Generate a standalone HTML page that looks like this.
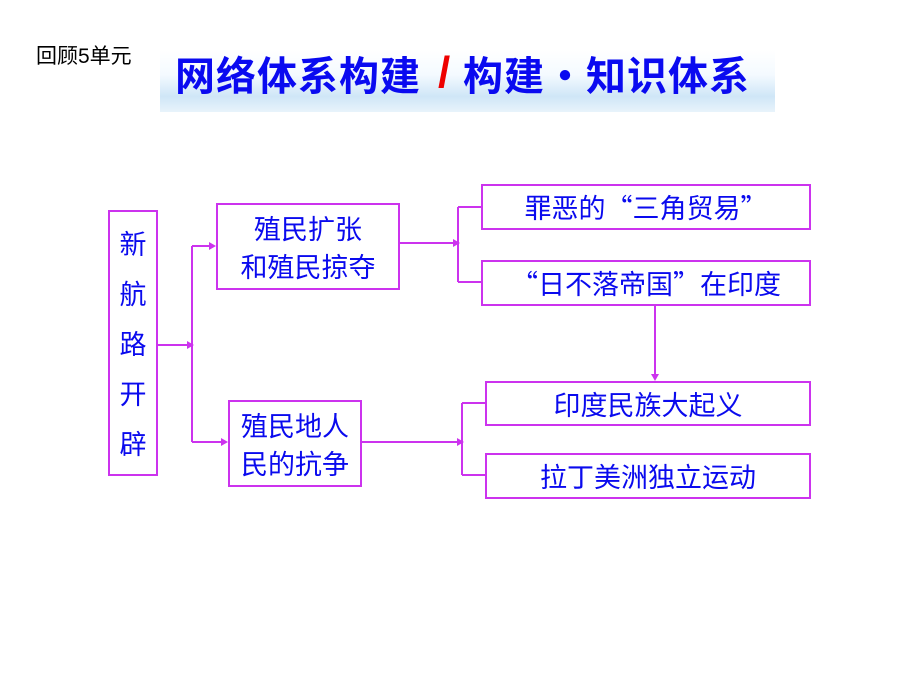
<!DOCTYPE html>
<html><head><meta charset="utf-8"><style>
body{margin:0;background:#fff;width:920px;height:690px;position:relative;overflow:hidden;font-family:"Liberation Sans","Noto Sans CJK SC",sans-serif}
.b{position:absolute;border:2px solid #cc33ee;box-sizing:border-box;color:#0a0aee;font-size:27px;font-family:"Noto Sans CJK SC",sans-serif;display:flex;align-items:center;justify-content:center;text-align:center;line-height:38px;white-space:nowrap}
.t{position:absolute;top:45px;font-size:40px;font-weight:bold;color:#0a0af0;white-space:nowrap;font-family:"Noto Sans CJK SC",sans-serif;letter-spacing:1px;line-height:56px}
</style></head><body>
<div style="position:absolute;left:36px;top:40px;font-size:21px;color:#000">回顾5单元</div>
<div style="position:absolute;left:160px;top:50px;width:615px;height:62px;background:linear-gradient(#fff 0%,#f4faff 40%,#cfe6f7 75%,#e8f3fb 100%)"></div>
<div class="t" style="left:175px">网络体系构建</div>
<div class="t" style="left:438px;color:#e00;font-family:'Liberation Sans',sans-serif;font-size:44px">/</div>
<div class="t" style="left:463px">构建</div>
<div class="t" style="left:545px">·</div>
<div class="t" style="left:586px">知识体系</div>
<div class="b" style="left:108px;top:210px;width:50px;height:266px;flex-direction:column;line-height:50px">新<br>航<br>路<br>开<br>辟</div>
<div class="b" style="left:216px;top:203px;width:184px;height:87px">殖民扩张<br>和殖民掠夺</div>
<div class="b" style="left:228px;top:400px;width:134px;height:87px">殖民地人<br>民的抗争</div>
<div class="b" style="left:481px;top:184px;width:330px;height:46px">罪恶的“三角贸易”</div>
<div class="b" style="left:481px;top:260px;width:330px;height:46px">“日不落帝国”在印度</div>
<div class="b" style="left:485px;top:381px;width:326px;height:45px">印度民族大起义</div>
<div class="b" style="left:485px;top:453px;width:326px;height:46px">拉丁美洲独立运动</div>
<svg width="920" height="690" style="position:absolute;left:0;top:0">
<g stroke="#cc33ee" stroke-width="2" fill="none">
<path d="M158 345H188M192 246V442M192 246H212M192 442H224"/>
<path d="M400 243H454M458 207V282M458 207H481M458 282H481"/>
<path d="M655 306V376"/>
<path d="M362 442H458M462 403V475M462 403H485M462 475H485"/>
</g>
<g fill="#cc33ee">
<path d="M194 345l-7-4v8z"/>
<path d="M216 246l-7-4v8z"/>
<path d="M228 442l-7-4v8z"/>
<path d="M460 243l-7-4v8z"/>
<path d="M464 442l-7-4v8z"/>
<path d="M655 381l-4-7h8z"/>
</g></svg>
</body></html>
